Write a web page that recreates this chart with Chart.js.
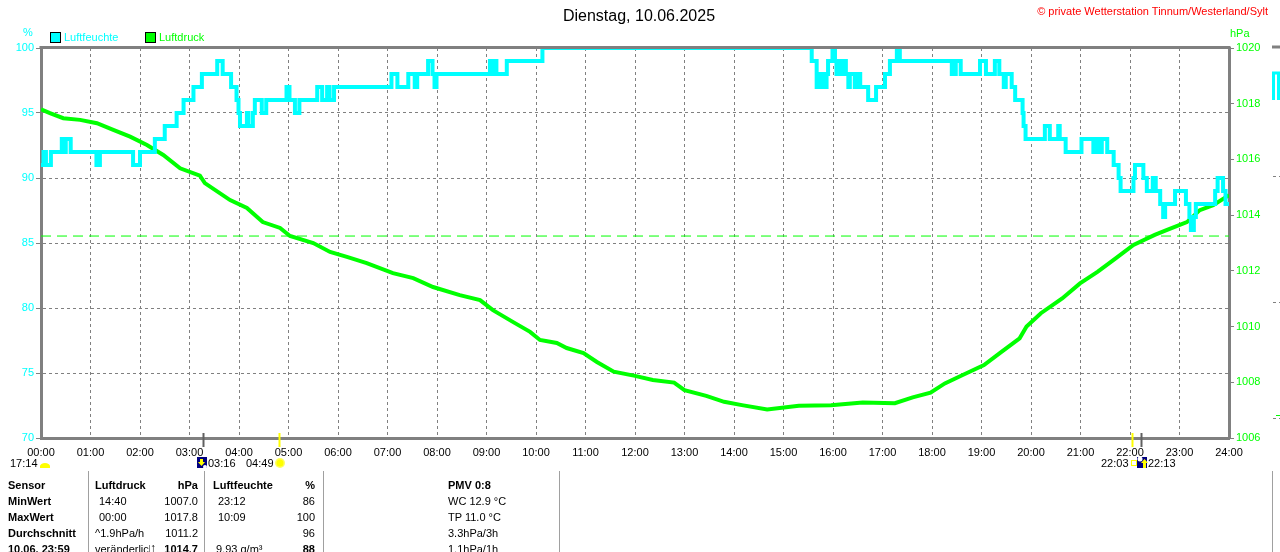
<!DOCTYPE html>
<html><head><meta charset="utf-8">
<script src="https://cdn.jsdelivr.net/npm/chart.js@4/dist/chart.umd.min.js"></script>
<style>
html,body{margin:0;padding:0;background:#fff;}
#wrap{position:relative;width:1280px;height:552px;overflow:hidden;font-family:'Liberation Sans',Arial,sans-serif;font-size:11px;color:#000;}
canvas{position:absolute;left:0;top:0;}
.t{position:absolute;white-space:nowrap;line-height:12px;}
.b{font-weight:bold;}
.box{position:absolute;width:9px;height:9px;border:1px solid #000;}
</style></head>
<body><div id="wrap"><canvas id="c" width="1280" height="552"></canvas>
<div class="t" style="left:0;width:1278px;text-align:center;top:7px;font-size:16px;line-height:18px;">Dienstag, 10.06.2025</div>
<div class="t" style="right:12px;top:5px;color:#ff0000;">© private Wetterstation Tinnum/Westerland/Sylt</div>
<div class="t" style="left:23px;top:26px;color:#00ffff;">%</div>
<div class="box" style="left:50px;top:32px;background:#00ffff;"></div>
<div class="t" style="left:64px;top:31px;color:#00ffff;">Luftfeuchte</div>
<div class="box" style="left:145px;top:32px;background:#00ff00;"></div>
<div class="t" style="left:159px;top:31px;color:#00ff00;">Luftdruck</div>
<div class="t" style="left:1230px;top:27px;color:#00ff00;">hPa</div>
<div class="t" style="left:10px;top:457px;">17:14</div>
<div class="t" style="left:208px;top:457px;">03:16</div>
<div class="t" style="left:246px;top:457px;">04:49</div>
<div class="t" style="left:1101px;top:457px;">22:03</div>
<div class="t" style="left:1148px;top:457px;">22:13</div>

<div class="t b" style="left:8px;top:479px;">Sensor</div>
<div class="t b" style="left:8px;top:495px;">MinWert</div>
<div class="t b" style="left:8px;top:511px;">MaxWert</div>
<div class="t b" style="left:8px;top:527px;">Durchschnitt</div>
<div class="t b" style="left:8px;top:543px;">10.06. 23:59</div>

<div class="t b" style="left:95px;top:479px;">Luftdruck</div>
<div class="t" style="left:99px;top:495px;">14:40</div>
<div class="t" style="left:99px;top:511px;">00:00</div>
<div class="t" style="left:95px;top:527px;">^1.9hPa/h</div>
<div class="t" style="left:95px;top:543px;">veränderlich</div>
<div class="t b" style="left:150px;top:542px;width:9px;background:#fff;color:#000;font-size:12px;">↑</div>

<div class="t b" style="right:1082px;top:479px;">hPa</div>
<div class="t" style="right:1082px;top:495px;">1007.0</div>
<div class="t" style="right:1082px;top:511px;">1017.8</div>
<div class="t" style="right:1082px;top:527px;">1011.2</div>
<div class="t b" style="right:1082px;top:543px;">1014.7</div>

<div class="t b" style="left:213px;top:479px;">Luftfeuchte</div>
<div class="t" style="left:218px;top:495px;">23:12</div>
<div class="t" style="left:218px;top:511px;">10:09</div>
<div class="t" style="left:216px;top:543px;">9.93 g/m³</div>

<div class="t b" style="right:965px;top:479px;">%</div>
<div class="t" style="right:965px;top:495px;">86</div>
<div class="t" style="right:965px;top:511px;">100</div>
<div class="t" style="right:965px;top:527px;">96</div>
<div class="t b" style="right:965px;top:543px;">88</div>

<div class="t b" style="left:448px;top:479px;">PMV 0:8</div>
<div class="t" style="left:448px;top:495px;">WC 12.9 °C</div>
<div class="t" style="left:448px;top:511px;">TP 11.0 °C</div>
<div class="t" style="left:448px;top:527px;">3.3hPa/3h</div>
<div class="t" style="left:448px;top:543px;">1.1hPa/1h</div>
</div>
<script>
// ---- data ----
const xTickLabels = ['00:00','01:00','02:00','03:00','04:00','05:00','06:00','07:00','08:00','09:00','10:00','11:00','12:00','13:00','14:00','15:00','16:00','17:00','18:00','19:00','20:00','21:00','22:00','23:00','24:00'];
const humTicks = [70,75,80,85,90,95,100];
const presTicks = [1006,1008,1010,1012,1014,1016,1018,1020];

// humidity change points (hour, %)
const humT = [0,0.05,0.1,0.2,0.42,0.47,0.5,0.6,1.12,1.19,
  1.86,2.0,2.3,2.5,2.74,2.88,3.08,3.25,3.56,3.67,
  3.84,3.95,3.99,4.02,4.16,4.19,4.28,4.32,4.46,4.55,
  4.96,5.02,5.13,5.22,5.58,5.68,5.78,5.83,5.92,7.08,
  7.2,7.42,7.55,7.6,7.82,7.91,7.95,7.99,9.07,9.12,
  9.16,9.2,9.41,10.13,15.57,15.67,15.74,15.77,15.8,15.83,
  15.87,15.9,15.99,16.04,16.07,16.1,16.18,16.2,16.26,16.31,
  16.34,16.44,16.48,16.55,16.71,16.87,17.05,17.15,17.29,17.35,
  18.4,18.48,18.58,18.97,19.09,19.27,19.36,19.45,19.49,19.61,
  19.68,19.83,19.85,19.89,20.28,20.38,20.55,20.58,20.7,21.02,
  21.26,21.31,21.36,21.43,21.54,21.67,21.77,21.81,22.07,22.1,
  22.27,22.34,22.46,22.52,22.61,22.67,22.71,22.91,23.13,23.2,
  23.23,23.29,23.33,23.72,23.77,23.88,23.93,24];
const humV = [91,92,91,92,93,92,93,92,91,92,
  91,92,93,94,95,96,97,98,99,98,
  97,96,95,94,95,94,95,96,95,96,
  97,96,95,96,97,96,97,96,97,98,
  97,98,97,98,99,98,97,98,99,98,
  99,98,99,100,99,97,98,97,98,97,
  98,99,100,99,98,99,98,99,98,97,
  98,97,98,97,96,97,98,99,100,99,
  98,99,98,99,98,99,98,97,98,97,
  96,95,94,93,94,93,94,93,92,93,
  92,93,92,93,92,91,90,89,90,91,
  90,89,90,89,88,87,88,89,88,87,
  86,87,88,89,90,89,88,88];

// pressure (hour, hPa)
const presT = [0,0.18,0.45,0.79,1.13,1.46,1.8,2.14,2.47,2.81,
  3.21,3.31,3.82,4.16,4.48,4.83,5.03,5.5,5.84,6.18,
  6.58,7.11,7.52,7.92,8.46,8.87,9.13,9.54,9.88,10.08,
  10.42,10.62,10.96,11.23,11.57,12.0,12.36,12.79,13.0,13.44,
  13.8,14.16,14.67,15.31,15.96,16.6,17.25,17.61,17.97,18.26,
  18.62,19.05,19.41,19.77,19.91,20.2,20.63,20.99,21.35,21.71,
  22.07,22.5,22.75,23.15,23.41,23.68,24];
const presV = [1017.80,1017.66,1017.48,1017.42,1017.30,1017.06,1016.82,1016.52,1016.16,1015.68,
  1015.42,1015.15,1014.54,1014.26,1013.75,1013.54,1013.25,1013.00,1012.68,1012.50,
  1012.28,1011.92,1011.74,1011.42,1011.13,1010.95,1010.59,1010.16,1009.81,1009.52,
  1009.41,1009.23,1009.05,1008.73,1008.38,1008.23,1008.08,1007.99,1007.72,1007.51,
  1007.30,1007.18,1007.02,1007.16,1007.18,1007.27,1007.25,1007.46,1007.63,1007.96,
  1008.26,1008.62,1009.10,1009.58,1010.00,1010.48,1011.01,1011.55,1011.97,1012.45,
  1012.93,1013.29,1013.47,1013.75,1014.18,1014.36,1014.72];

const refPressure = 1013.25;
// sun / moon events (hour, kind)
const eventT = [3+16/60, 4+49/60, 22+3/60, 22+13/60];
const eventKind = ['moon','sun','sun','moon'];

const GRAY = '#808080';
const FONT = {family:"'Liberation Sans', Arial, sans-serif", size:11};

const decor = {
  id:'decor',
  afterDraw(chart){
    const ctx = chart.ctx, a = chart.chartArea, xs = chart.scales.x;
    ctx.save();
    // top frame
    ctx.strokeStyle = GRAY; ctx.lineWidth = 3;
    ctx.beginPath(); ctx.moveTo(a.left-1.5, a.top-0.5); ctx.lineTo(a.right+1.5, a.top-0.5); ctx.stroke();
    // event markers
    eventT.forEach((t,i)=>{
      const x = Math.round(xs.getPixelForValue(t))+0.5;
      ctx.strokeStyle = eventKind[i]==='sun' ? '#ffff00' : '#606060';
      ctx.lineWidth = 2;
      ctx.beginPath(); ctx.moveTo(x, 433); ctx.lineTo(x, 447); ctx.stroke();
    });
    // icons
    ctx.fillStyle = '#ffff00';
    ctx.beginPath(); ctx.ellipse(45,466,5,3,0,Math.PI,0); ctx.fill();
    ctx.fillRect(40,466,10,2);
    ctx.fillStyle = '#000080'; ctx.fillRect(197,457,10,11);
    ctx.fillStyle = '#ffff00'; ctx.fillRect(200,459,3,4);
    ctx.beginPath(); ctx.moveTo(198,462); ctx.lineTo(205,462); ctx.lineTo(201.5,466); ctx.fill();
    ctx.fillStyle = '#ffffff'; ctx.beginPath(); ctx.arc(205,467,2,0,Math.PI*2); ctx.fill();
    ctx.fillStyle = '#ffff60'; ctx.beginPath(); ctx.arc(280,463,5,0,Math.PI*2); ctx.fill();
    ctx.fillStyle = '#ffff00'; ctx.beginPath(); ctx.arc(280,463,3.5,0,Math.PI*2); ctx.fill();
    ctx.strokeStyle = '#ffff00'; ctx.lineWidth = 1; ctx.strokeRect(1131.5,460.5,5,5);
    ctx.fillStyle = '#000080'; ctx.fillRect(1137,457,10,11);
    ctx.fillStyle = '#ffffff'; ctx.beginPath(); ctx.arc(1140,459,2.5,0,Math.PI*2); ctx.fill();
    ctx.fillStyle = '#ffff00';
    ctx.beginPath(); ctx.moveTo(1141,463); ctx.lineTo(1148,463); ctx.lineTo(1144.5,459); ctx.fill();
    ctx.fillRect(1143,463,3,5);
    // table separators
    ctx.strokeStyle = '#a0a0a0'; ctx.lineWidth = 1;
    [88,204,323,559,1272].forEach(x=>{ ctx.beginPath(); ctx.moveTo(x+0.5,471); ctx.lineTo(x+0.5,552); ctx.stroke(); });
    // fragment of neighbouring chart at right edge
    ctx.strokeStyle = GRAY; ctx.lineWidth = 3;
    ctx.beginPath(); ctx.moveTo(1272,47); ctx.lineTo(1280,47); ctx.stroke();
    ctx.strokeStyle = '#00ffff'; ctx.lineWidth = 3;
    ctx.beginPath(); ctx.moveTo(1273.5,100); ctx.lineTo(1273.5,73); ctx.lineTo(1278.5,73); ctx.lineTo(1278.5,100); ctx.stroke();
    ctx.strokeStyle = GRAY; ctx.lineWidth = 1; ctx.setLineDash([3,3]);
    [176,302,418].forEach(y=>{ ctx.beginPath(); ctx.moveTo(1273,y+0.5); ctx.lineTo(1280,y+0.5); ctx.stroke(); });
    ctx.setLineDash([]); ctx.strokeStyle = '#00ff00';
    ctx.beginPath(); ctx.moveTo(1276,415.5); ctx.lineTo(1280,415.5); ctx.stroke();
    ctx.restore();
  }
};

new Chart(document.getElementById('c'), {
  type:'line',
  data:{
    datasets:[
      {label:'Luftfeuchte', yAxisID:'y', data: humT.map((t,i)=>({x:t,y:humV[i]})),
       borderColor:'#00ffff', borderWidth:4, pointRadius:0, stepped:'before', order:0},
      {label:'Luftdruck', yAxisID:'y1', data: presT.map((t,i)=>({x:t,y:presV[i]})),
       borderColor:'#00ff00', borderWidth:4, pointRadius:0, tension:0, order:1},
      {label:'1013.25', yAxisID:'y1', data:[{x:0,y:refPressure},{x:24,y:refPressure}],
       borderColor:'#00ff00', borderWidth:1, borderDash:[10,6], pointRadius:0, order:2}
    ]
  },
  options:{
    responsive:false, animation:false, devicePixelRatio:1,
    layout:{padding:{top:48,left:0,right:0,bottom:0}},
    plugins:{legend:{display:false}, title:{display:false}, tooltip:{enabled:false}},
    scales:{
      x:{type:'linear', min:0, max:24,
        ticks:{stepSize:1, autoSkip:false, maxRotation:0, color:'#000', font:FONT, padding:8,
          callback:(v)=>xTickLabels[v]},
        grid:{color:GRAY, lineWidth:1, drawTicks:false},
        border:{display:true, color:GRAY, width:3, dash:[3,3]},
        afterFit(s){ s.height = 114; }},
      y:{type:'linear', position:'left', min:70, max:100,
        afterBuildTicks(s){ s.ticks = humTicks.map(v=>({value:v})); },
        ticks:{color:'#00ffff', font:FONT, padding:2, callback:(v)=>String(v)},
        grid:{color:GRAY, lineWidth:1, tickLength:5, tickColor:GRAY, tickBorderDash:[]},
        border:{display:true, color:GRAY, width:3, dash:[3,3]},
        afterFit(s){ s.width = 41; }},
      y1:{type:'linear', position:'right', min:1006, max:1020,
        afterBuildTicks(s){ s.ticks = presTicks.map(v=>({value:v})); },
        ticks:{color:'#00ff00', font:FONT, padding:2, callback:(v)=>String(v)},
        grid:{drawOnChartArea:false, tickLength:5, tickColor:GRAY},
        border:{display:true, color:GRAY, width:3},
        afterFit(s){ s.width = 51; }}
    }
  },
  plugins:[decor]
});
</script>
</body></html>
